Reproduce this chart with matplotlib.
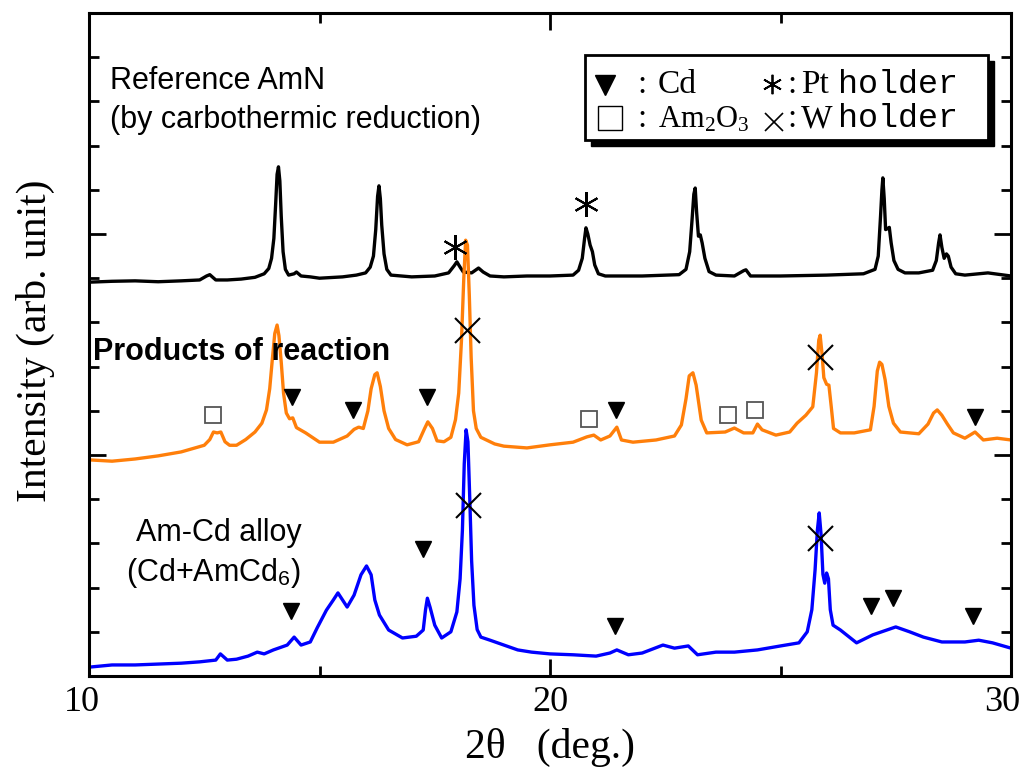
import matplotlib.pyplot as plt
from matplotlib.lines import Line2D
from matplotlib.patches import Rectangle
from matplotlib.transforms import ScaledTranslation

plt.rcParams['mathtext.fontset'] = 'custom'
plt.rcParams['mathtext.rm'] = 'Liberation Serif'
plt.rcParams['mathtext.it'] = 'Liberation Serif:italic'
plt.rcParams['mathtext.sf'] = 'Liberation Sans'

# reference AmN trace (black), (2theta, intensity)
ref_pts = [(10.0, 8.91), (10.5, 8.93), (11.0, 8.94), (11.5, 8.92), (12.0, 8.94), (12.4, 8.96), (12.55, 9.05),
           (12.62, 9.08), (12.75, 8.96), (13.0, 8.96), (13.3, 8.98), (13.6, 9.02), (13.8, 9.1), (13.9, 9.22),
           (13.96, 9.45), (14.01, 9.9), (14.05, 10.7), (14.08, 11.35), (14.11, 11.52), (14.14, 11.2),
           (14.17, 10.4), (14.21, 9.6), (14.26, 9.2), (14.33, 9.07), (14.45, 9.1), (14.5, 9.14), (14.6, 9.05),
           (14.8, 9.03), (15.0, 9.0), (15.5, 9.03), (15.8, 9.07), (16.0, 9.12), (16.1, 9.25), (16.17, 9.5),
           (16.22, 10.1), (16.26, 10.85), (16.29, 11.09), (16.32, 10.8), (16.35, 10.2), (16.4, 9.55),
           (16.46, 9.2), (16.55, 9.07), (17.0, 9.03), (17.5, 9.05), (17.8, 9.12), (17.92, 9.28), (17.98, 9.37),
           (18.05, 9.25), (18.12, 9.14), (18.3, 9.12), (18.45, 9.23), (18.55, 9.14), (18.7, 9.05), (19.0, 9.03),
           (19.5, 9.05), (20.0, 9.05), (20.5, 9.07), (20.62, 9.18), (20.7, 9.45), (20.75, 9.9), (20.78, 10.14),
           (20.82, 10.0), (20.87, 9.75), (20.92, 9.6), (20.97, 9.3), (21.05, 9.1), (21.2, 9.05), (22.0, 9.05),
           (22.8, 9.08), (22.95, 9.2), (23.03, 9.6), (23.08, 10.3), (23.12, 10.9), (23.15, 11.04), (23.18, 10.5),
           (23.22, 9.95), (23.26, 9.98), (23.3, 9.8), (23.36, 9.45), (23.45, 9.15), (23.6, 9.07), (24.0, 9.05),
           (24.2, 9.17), (24.25, 9.19), (24.35, 9.05), (25.0, 9.05), (26.0, 9.07), (26.8, 9.1), (27.05, 9.2),
           (27.12, 9.5), (27.17, 10.4), (27.2, 11.0), (27.22, 11.27), (27.25, 10.8), (27.28, 10.1),
           (27.32, 10.12), (27.36, 10.15), (27.4, 9.8), (27.46, 9.4), (27.55, 9.2), (27.7, 9.12), (28.0, 9.12),
           (28.3, 9.18), (28.38, 9.4), (28.43, 9.8), (28.46, 9.98), (28.5, 9.7), (28.55, 9.45), (28.6, 9.55),
           (28.64, 9.5), (28.7, 9.25), (28.8, 9.1), (29.0, 9.07), (29.5, 9.12), (30.0, 9.05)]

# products of reaction (orange)
prod_pts = [(10.0, 4.89), (10.5, 4.86), (11.0, 4.91), (11.5, 4.98), (12.0, 5.07), (12.3, 5.16), (12.5, 5.22),
            (12.62, 5.35), (12.7, 5.52), (12.78, 5.5), (12.86, 5.52), (12.95, 5.3), (13.05, 5.22), (13.2, 5.22),
            (13.4, 5.35), (13.6, 5.52), (13.75, 5.72), (13.85, 6.02), (13.92, 6.5), (13.98, 7.2), (14.03, 7.75),
            (14.08, 7.94), (14.12, 7.7), (14.17, 7.1), (14.22, 6.4), (14.28, 5.95), (14.35, 5.82), (14.42, 5.84),
            (14.5, 5.62), (14.7, 5.5), (15.0, 5.29), (15.3, 5.29), (15.6, 5.43), (15.75, 5.58), (15.85, 5.63),
            (15.95, 5.6), (16.05, 6.0), (16.12, 6.5), (16.2, 6.82), (16.25, 6.86), (16.32, 6.55), (16.4, 6.0),
            (16.5, 5.6), (16.65, 5.35), (16.9, 5.23), (17.15, 5.3), (17.28, 5.6), (17.35, 5.75), (17.45, 5.6),
            (17.55, 5.32), (17.7, 5.3), (17.85, 5.4), (17.95, 5.8), (18.02, 6.4), (18.08, 7.6), (18.13, 9.0),
            (18.17, 9.86), (18.21, 9.75), (18.25, 8.6), (18.29, 7.2), (18.34, 6.0), (18.4, 5.6), (18.5, 5.4),
            (18.8, 5.25), (19.0, 5.2), (19.5, 5.16), (20.0, 5.23), (20.5, 5.29), (20.8, 5.41), (20.95, 5.45),
            (21.1, 5.34), (21.3, 5.43), (21.45, 5.63), (21.55, 5.34), (21.8, 5.29), (22.3, 5.34), (22.7, 5.43),
            (22.85, 5.68), (22.95, 6.27), (23.02, 6.79), (23.1, 6.86), (23.17, 6.58), (23.28, 5.79), (23.4, 5.5),
            (23.8, 5.52), (24.0, 5.61), (24.2, 5.5), (24.4, 5.5), (24.5, 5.7), (24.6, 5.57), (24.9, 5.45),
            (25.2, 5.52), (25.36, 5.72), (25.55, 5.9), (25.7, 6.09), (25.78, 6.86), (25.83, 7.6), (25.86, 7.71),
            (25.9, 7.3), (25.94, 6.75), (26.0, 6.6), (26.05, 6.58), (26.1, 6.1), (26.15, 5.6), (26.3, 5.5),
            (26.6, 5.5), (26.95, 5.57), (27.03, 6.1), (27.1, 6.9), (27.15, 7.1), (27.2, 7.05), (27.27, 6.7),
            (27.35, 6.1), (27.45, 5.72), (27.6, 5.52), (28.0, 5.48), (28.2, 5.7), (28.32, 5.95), (28.4, 6.02),
            (28.5, 5.9), (28.62, 5.7), (28.75, 5.5), (29.0, 5.38), (29.22, 5.52), (29.4, 5.34), (29.7, 5.38),
            (30.0, 5.34)]

# Am-Cd alloy (blue)
alloy_pts = [(10.0, 0.2), (10.5, 0.25), (11.0, 0.25), (11.5, 0.27), (12.0, 0.29), (12.4, 0.32), (12.75, 0.36),
             (12.85, 0.5), (13.0, 0.36), (13.2, 0.38), (13.45, 0.45), (13.65, 0.54), (13.8, 0.5), (14.0, 0.59),
             (14.3, 0.7), (14.45, 0.88), (14.6, 0.7), (14.8, 0.77), (14.95, 1.09), (15.15, 1.49), (15.3, 1.72),
             (15.4, 1.88), (15.5, 1.72), (15.6, 1.56), (15.75, 1.83), (15.9, 2.29), (16.02, 2.49), (16.12, 2.29),
             (16.2, 1.72), (16.3, 1.38), (16.5, 1.04), (16.8, 0.86), (17.1, 0.9), (17.25, 1.04), (17.3, 1.5),
             (17.34, 1.76), (17.4, 1.55), (17.5, 1.15), (17.65, 0.86), (17.85, 1.0), (17.98, 1.45), (18.05, 2.2),
             (18.1, 3.3), (18.14, 4.8), (18.18, 5.57), (18.22, 5.3), (18.26, 4.0), (18.3, 2.6), (18.35, 1.6),
             (18.42, 1.05), (18.5, 0.88), (18.7, 0.81), (19.0, 0.7), (19.3, 0.59), (19.6, 0.54), (20.0, 0.5),
             (20.5, 0.48), (21.0, 0.45), (21.3, 0.52), (21.45, 0.59), (21.7, 0.48), (22.0, 0.52), (22.45, 0.7),
             (22.7, 0.63), (23.0, 0.68), (23.2, 0.48), (23.6, 0.54), (24.0, 0.54), (24.5, 0.59), (25.0, 0.68),
             (25.4, 0.75), (25.58, 1.0), (25.68, 1.5), (25.75, 2.4), (25.8, 3.3), (25.84, 3.69), (25.88, 3.2),
             (25.92, 2.3), (25.96, 2.1), (26.0, 2.33), (26.04, 2.2), (26.08, 1.5), (26.14, 1.15), (26.3, 1.04),
             (26.65, 0.75), (27.0, 0.93), (27.5, 1.11), (27.8, 1.0), (28.1, 0.88), (28.5, 0.77), (29.0, 0.77),
             (29.3, 0.81), (29.6, 0.75), (30.0, 0.63)]

# phase markers
cd_x = [14.41, 15.72, 17.33, 21.43, 29.22, 14.38, 17.25, 21.41, 26.96, 27.44, 29.18]
cd_y = [6.31, 6.02, 6.31, 6.02, 5.86, 1.47, 2.87, 1.13, 1.58, 1.76, 1.36]
oxide_x = [12.69, 20.85, 23.86, 24.45]
oxide_y = [5.9, 5.81, 5.9, 6.02]
pt_x = [17.94, 20.78]
pt_y = [9.71, 10.68]
w_x = [18.2, 18.22, 25.86, 25.86]
w_y = [7.83, 3.87, 7.22, 3.12]

W, H = 1021, 767
def fx(px):
    return px / W
def fy(py):
    return 1 - py / H

fig = plt.figure(figsize=(10.21, 7.67), dpi=100)
ax = fig.add_axes([fx(89), fy(676), (1011 - 89) / W, (676 - 13) / H])

for pts, col in [(ref_pts, 'black'), (prod_pts, '#ff7f0a'), (alloy_pts, '#0000ff')]:
    xs, ys = zip(*pts)
    ax.plot(xs, ys, color=col, lw=2.4, solid_joinstyle='round')

ax.plot(cd_x, cd_y, 'v', color='black', ms=11, ls='none')
ax.plot(oxide_x, oxide_y, 's', mfc='white', mec='#555555', mew=1.3, ms=12, ls='none')
ax.plot(pt_x, pt_y, marker=(6, 2, 0), color='black', ms=18, mew=1.5, ls='none')
ax.plot(w_x, w_y, 'x', color='black', ms=18, mew=1.5, ls='none')

ax.set_xlim(10, 30)
ax.set_ylim(0, 15)
ax.set_xticks([10, 20, 30])
ax.set_xticks([15, 25], minor=True)
ax.set_yticks([0, 5, 10, 15])
ax.set_yticks(range(16), minor=True)
ax.set_yticklabels([])
ax.tick_params(which='both', direction='in', top=True, right=True, width=2)
ax.tick_params(which='major', length=12, labelsize=26, pad=7)
ax.tick_params(which='minor', length=7)
shifts = [-0.07, 0.0, -0.09]
for tick, dx in zip(ax.xaxis.get_major_ticks(), shifts):
    tick.label1.set_family('Liberation Serif')
    tick.label1.set_transform(tick.label1.get_transform() + ScaledTranslation(dx, 0, fig.dpi_scale_trans))
for s in ax.spines.values():
    s.set_linewidth(2.2)

sans = 'Liberation Sans'
serif = 'Liberation Serif'
ax.text(10.46, 13.46, 'Reference AmN', family=sans, fontsize=22, va='center')
ax.text(10.46, 12.58, '(by carbothermic reduction)', family=sans, fontsize=22, va='center')
ax.text(10.09, 7.33, 'Products of reaction', family=sans, fontsize=22, weight='bold', va='center')
ax.text(12.82, 3.24, 'Am-Cd alloy', family=sans, fontsize=22, ha='center', va='center')
ax.text(12.71, 2.33, r'(Cd+AmCd$_\mathsf{6}$)', family=sans, fontsize=22, ha='center', va='center')

fig.text(fx(35), fy(341), 'Intensity (arb. unit)', family=serif, fontsize=30,
         rotation=90, ha='center', va='center')
fig.text(fx(550), fy(747), '2θ   (deg.)', family=serif, fontsize=30, ha='center', va='center')

# legend box with shadow
fig.add_artist(Rectangle((fx(591), fy(146)), (988 - 585) / W, (140 - 55) / H,
                         transform=fig.transFigure, color='black', zorder=5))
fig.add_artist(Rectangle((fx(585), fy(140)), (988 - 585) / W, (140 - 55) / H,
                         transform=fig.transFigure, facecolor='white', edgecolor='black',
                         lw=2, zorder=6))
fig.add_artist(Line2D([fx(605)], [fy(85)], marker='v', color='black', ms=15,
                      transform=fig.transFigure, zorder=7))
fig.add_artist(Line2D([fx(610)], [fy(118)], marker='s', mfc='white', mec='black', mew=1,
                      ms=17, transform=fig.transFigure, zorder=7))
fig.add_artist(Line2D([fx(772)], [fy(84)], marker=(6, 2, 0), color='black', ms=14, mew=1.3,
                      transform=fig.transFigure, zorder=7))
fig.add_artist(Line2D([fx(774)], [fy(122)], marker='x', color='black', ms=13, mew=1.2,
                      transform=fig.transFigure, zorder=7))
for px, py, s, fam, fs in [(642, 93, ':', serif, 24), (658, 93, 'Cd', serif, 24),
                           (642, 127, ':', serif, 24), (658, 127, r'Am$_2$O$_3$', serif, 22),
                           (792, 93, ':', serif, 24), (801, 93, 'Pt', serif, 24),
                           (792, 127, ':', serif, 24), (801, 127, 'W', serif, 24),
                           (838, 93, 'holder', 'Liberation Mono', 24),
                           (838, 127, 'holder', 'Liberation Mono', 24)]:
    fig.text(fx(px), fy(py), s, family=fam, fontsize=fs, ha='center' if s == ':' else 'left',
             va='baseline', zorder=8)

fig.savefig('out.png', dpi=100)
